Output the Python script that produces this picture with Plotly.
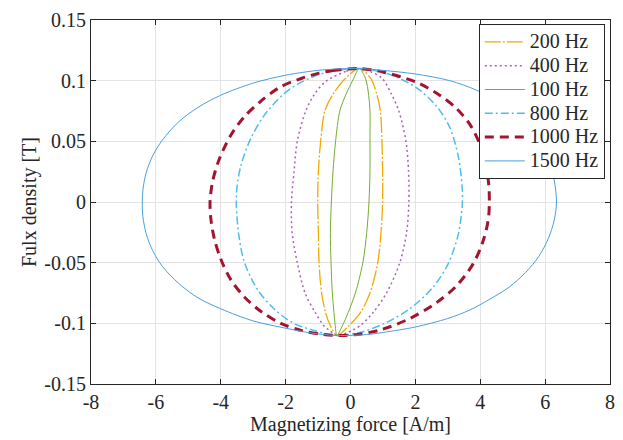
import plotly.graph_objects as go

# Tick values / labels
x_ticks = [-8, -6, -4, -2, 0, 2, 4, 6, 8]
x_labels = ["-8", "-6", "-4", "-2", "0", "2", "4", "6", "8"]
y_ticks = [-0.15, -0.1, -0.05, 0, 0.05, 0.1, 0.15]
y_labels = ["-0.15", "-0.1", "-0.05", "0", "0.05", "0.1", "0.15"]

# Loops (H [A/m], B [T]); top tip -> left branch -> bottom tip -> right branch -> top tip
H_200 = [0.27, -0.15, -0.56, -0.79, -0.92, -0.99, -1.01, -0.99, -0.97, -0.89, -0.77, -0.62, -0.42,
         -0.05, 0.31, 0.60, 0.84, 0.94, 0.99, 0.99, 0.97, 0.92, 0.82, 0.62, 0.27]
B_200 = [0.11, 0.102, 0.088, 0.075, 0.05, 0.025, 0.0, -0.025, -0.05, -0.075, -0.091, -0.102, -0.11,
         -0.102, -0.091, -0.075, -0.05, -0.025, 0.0, 0.025, 0.05, 0.075, 0.088, 0.102, 0.11]

H_400 = [0.27, -0.15, -0.78, -1.13, -1.38, -1.64, -1.74, -1.82, -1.80, -1.64, -1.40, -1.09, -0.82, -0.62, -0.42,
         0.0, 0.29, 0.70, 1.11, 1.52, 1.73, 1.80, 1.79, 1.71, 1.49, 1.28, 0.97, 0.60, 0.27]
B_400 = [0.11, 0.1076, 0.099, 0.088, 0.075, 0.05, 0.025, 0.0, -0.025, -0.05, -0.075, -0.091, -0.102, -0.1065, -0.11,
         -0.1065, -0.102, -0.091, -0.075, -0.05, -0.025, 0.0, 0.025, 0.05, 0.075, 0.088, 0.102, 0.1076, 0.11]

H_100 = [0.27, 0.10, -0.15, -0.33, -0.46, -0.54, -0.59, -0.62, -0.60, -0.56, -0.51, -0.47, -0.42,
         -0.25, -0.07, 0.15, 0.38, 0.50, 0.57, 0.60, 0.60, 0.60, 0.56, 0.46, 0.27]
B_100 = [0.11, 0.102, 0.088, 0.075, 0.05, 0.025, 0.0, -0.025, -0.05, -0.075, -0.091, -0.102, -0.11,
         -0.102, -0.091, -0.075, -0.05, -0.025, 0.0, 0.025, 0.05, 0.075, 0.088, 0.102, 0.11]

H_800 = [0.27, -0.5, -0.98, -1.64, -2.10, -2.67, -3.08, -3.38, -3.50, -3.52,
         -3.50, -3.45, -3.28, -2.87, -2.36, -1.75, -1.10, -0.42,
         0.29, 1.01, 1.83, 2.55, 3.01, 3.32, 3.42, 3.45,
         3.44, 3.32, 3.06, 2.65, 2.04, 1.22, 0.27]
B_800 = [0.11, 0.108, 0.105, 0.097, 0.088, 0.071, 0.052, 0.030, 0.012, 0.0,
         -0.012, -0.026, -0.049, -0.072, -0.088, -0.100, -0.106, -0.11,
         -0.1075, -0.1005, -0.088, -0.070, -0.051, -0.027, -0.010, 0.0,
         0.013, 0.038, 0.0615, 0.079, 0.094, 0.105, 0.11]

H_1000 = [0.27, -0.5, -1.0, -1.5, -2.15, -2.77, -3.28, -3.69, -4.05, -4.25, -4.33,
          -4.30, -4.20, -4.00, -3.69, -3.28, -2.77, -2.15, -1.50, -0.90, -0.42,
          0.10, 0.91, 1.83, 2.65, 3.27, 3.78, 4.09, 4.25, 4.28,
          4.26, 4.15, 3.98, 3.68, 3.27, 2.75, 2.05, 1.02, 0.27]
B_1000 = [0.11, 0.1085, 0.106, 0.102, 0.095, 0.083, 0.070, 0.055, 0.035, 0.017, 0.0,
          -0.015, -0.030, -0.047, -0.064, -0.078, -0.090, -0.100, -0.106, -0.109, -0.11,
          -0.1095, -0.1055, -0.096, -0.083, -0.069, -0.051, -0.032, -0.014, 0.0,
          0.015, 0.032, 0.048, 0.064, 0.077, 0.088, 0.0985, 0.107, 0.11]

H_1500 = [0.27, -0.5, -1.0, -2.0, -3.0, -4.0, -4.7, -5.3, -5.8, -6.1, -6.3, -6.4, -6.42,
          -6.40, -6.30, -6.10, -5.80, -5.30, -4.70, -4.00, -3.00, -2.00, -1.20, -0.42,
          0.50, 1.01, 2.00, 3.00, 3.68, 4.30, 4.90, 5.40, 5.80, 6.10, 6.28, 6.35,
          6.28, 6.10, 5.75, 5.25, 4.60, 3.90, 3.06, 2.00, 1.00, 0.27]
B_1500 = [0.11, 0.1095, 0.1085, 0.1045, 0.098, 0.088, 0.078, 0.066, 0.051, 0.038, 0.024, 0.010, 0.0,
          -0.012, -0.026, -0.040, -0.053, -0.067, -0.079, -0.088, -0.098, -0.104, -0.108, -0.11,
          -0.1093, -0.1075, -0.103, -0.096, -0.089, -0.080, -0.070, -0.058, -0.045, -0.030, -0.015, 0.0,
          0.018, 0.035, 0.052, 0.068, 0.082, 0.092, 0.100, 0.1055, 0.1085, 0.11]

series = [
    ("200 Hz", H_200, B_200, "#F2A900", 1.3, "16px,2px,2px,2px"),
    ("400 Hz", H_400, B_400, "#A861BA", 1.5, "2px,3px"),
    ("100 Hz", H_100, B_100, "#77AC30", 1.0, "solid"),
    ("800 Hz", H_800, B_800, "#4DBEEE", 1.5, "8px,3px,2px,3px"),
    ("1000 Hz", H_1000, B_1000, "#A2142F", 3.0, "9px,6px"),
    ("1500 Hz", H_1500, B_1500, "#4A9FDC", 1.0, "solid"),
]

font_family = "Liberation Serif"
fig = go.Figure()
for name, h, b, color, width, dash in series:
    fig.add_trace(go.Scatter(
        x=h, y=b, mode="lines",
        name='<span style="font-size:20px">' + name + '</span>',
        line=dict(color=color, width=width, dash=dash, shape="spline", smoothing=0.9),
    ))

axis_common = dict(
    showgrid=True, gridcolor="#E3E3E3", gridwidth=1, automargin=False,
    zeroline=False, showline=True, linecolor="#262626", linewidth=1,
    mirror="ticks", ticks="inside", ticklen=5, tickcolor="#262626",
    tickfont=dict(family=font_family, size=20, color="#262626"),
)
fig.update_xaxes(range=[-8, 8], tickvals=x_ticks, ticktext=x_labels,
                 title=dict(text="Magnetizing force [A/m]", font=dict(family=font_family, size=20, color="#262626"), standoff=2),
                 **axis_common)
fig.update_yaxes(range=[-0.15, 0.15], tickvals=y_ticks, ticktext=y_labels,
                 title=dict(text="Fulx density [T]", font=dict(family=font_family, size=20, color="#262626"), standoff=2),
                 **axis_common)

fig.update_layout(
    width=623, height=440,
    font=dict(family=font_family, color="#262626"),
    margin=dict(l=91, r=13, t=20, b=56),
    paper_bgcolor="white", plot_bgcolor="white",
    showlegend=True,
    legend=dict(
        x=0.99, y=0.989, xanchor="right", yanchor="top",
        bgcolor="white", bordercolor="#262626", borderwidth=1,
        font=dict(family=font_family, size=16, color="#262626"),
        tracegroupgap=0, itemwidth=40,
    ),
)

fig.write_html("out.html", config={"displayModeBar": False},
               post_script="document.body.style.margin='0px';")
